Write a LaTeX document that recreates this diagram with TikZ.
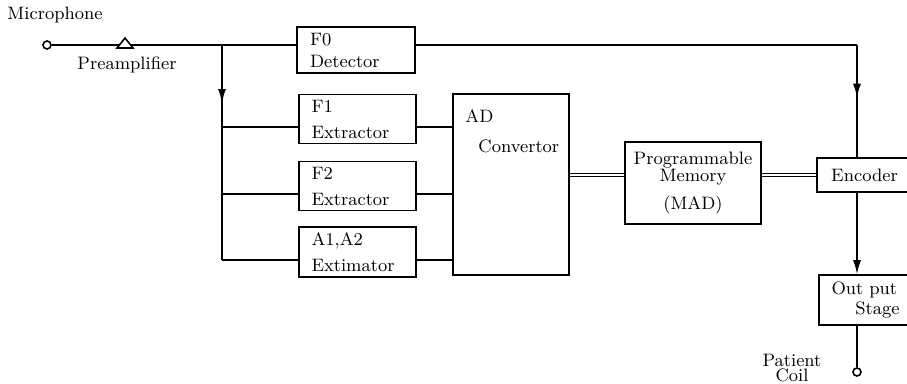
\documentclass[tikz,border=0pt]{standalone}
\usepackage{amsmath}
\usetikzlibrary{arrows.meta,decorations.markings}

\begin{document}
\begin{tikzpicture}[x=0.5pt,y=-0.5pt,thick,font=\small,
    block/.style={draw,rectangle,inner sep=0pt},
    port/.style={draw,circle,minimum size=4pt,inner sep=0pt},
    arr/.style={-{Latex[length=7pt,width=4pt]}},
    midarr/.style={postaction={decorate},decoration={markings,
        mark=at position #1 with {\arrow{Latex[length=7pt,width=4pt]}}}},
    bus/.style={double,double distance=1.4pt,line width=0.5pt}]
    \useasboundingbox (0,0) rectangle (907,384);
    \clip (0,0) rectangle (907,384);

    \node at (47,45) [port] (mic) {};
    \node at (55,15) (miclabel) {Microphone};
    \draw (117,48) -- (125,38) -- (133,48) -- cycle;
    \coordinate (ampin) at (119.4,45);
    \coordinate (ampout) at (130.6,45);
    \node at (127,65) (amplabel) {Preamplifier};

    \node at (356,50) [block,minimum width=59pt,minimum height=23pt,text width=46pt,align=left] (f0) {F0\\[0pt]Detector};
    \node at (357.5,119) [block,minimum width=58.5pt,minimum height=24.5pt,text width=46pt,align=left] (f1) {F1\\[2pt]Extractor};
    \node at (357.5,186) [block,minimum width=58.5pt,minimum height=24.5pt,text width=46pt,align=left] (f2) {F2\\[2pt]Extractor};
    \node at (357.5,252) [block,minimum width=58.5pt,minimum height=25pt,text width=46pt,align=left] (aa) {A1,A2\\[2pt]Extimator};

    \node at (511,184.5) [block,minimum width=58pt,minimum height=90.5pt] (ad) {};
    \node at (458,116) [anchor=west] (adlabel) {AD};
    \node at (471,146) [anchor=west] (convlabel) {Convertor};

    \node at (693,183) [block,minimum width=68pt,minimum height=41pt,align=center] (mem) {Programmable\\[-2.5pt]Memory\\[3pt](MAD)};
    \node at (864.5,175) [block,minimum width=47.5pt,minimum height=17pt] (enc) {Encoder};
    \node at (865.5,300) [block,minimum width=46.5pt,minimum height=25pt,text width=34pt,align=left] (out) {Out put\\[-1pt]\hspace*{\fill}Stage};
    \node at (857,372) [port] (coil) {};
    \node at (792,368) [align=center] (coillabel) {Patient\\[-3.5pt]Coil};

    \coordinate (tap) at (222,45);
    \coordinate (bot) at (222,260);
    \coordinate (turn) at (857,45);

    \draw (mic) -- (ampin) (ampout) -- (tap) -- ([yshift=2.5pt]f0.west);
    \draw ([yshift=2.5pt]f0.east) -- (turn);
    \draw[midarr=0.47] (turn) -- (turn |- enc.north);
    \draw[midarr=0.27] (tap) -- (bot);
    \foreach \n in {f1,f2,aa}
        \draw ([yshift=-4pt]\n.west) -- ([yshift=-4pt]\n.west -| tap)
              ([yshift=-4pt]\n.east) -- ([yshift=-4pt]\n.east -| ad.west);
    \draw[bus] (enc.west -| ad.east) -- (enc.west -| mem.west)
               (enc.west -| mem.east) -- (enc.west);
    \draw[arr] (enc.south -| turn) -- (out.north -| turn);
    \draw (out.south -| turn) -- (coil);
\end{tikzpicture}
\end{document}
